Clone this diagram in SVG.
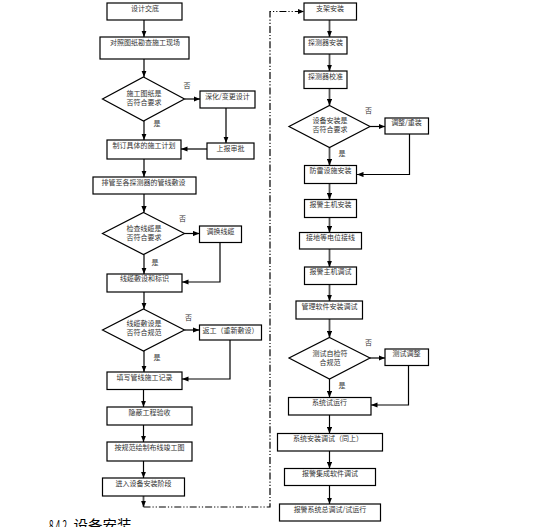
<svg xmlns="http://www.w3.org/2000/svg" width="538" height="527" viewBox="0 0 538 527">
<style>
.b{fill:#fff;stroke:#000;stroke-width:1.2}
.t{font-family:"Noto Sans CJK SC","Liberation Sans",sans-serif;font-size:7px;fill:#333;text-anchor:middle}
.l{font-family:"Noto Sans CJK SC","Liberation Sans",sans-serif;font-size:7px;fill:#333;text-anchor:middle}
.c{fill:none;stroke:#000;stroke-width:1.2}
.g{fill:none;stroke:#555;stroke-width:1.8}
.dd{fill:none;stroke:#000;stroke-width:1.2;stroke-dasharray:7 2 1.2 2 1.2 2}
.h{font-family:"Noto Sans CJK SC","Liberation Sans",sans-serif;font-size:14.5px;fill:#000}
</style>
<defs>
<marker id="ah" viewBox="0 0 10 8" refX="10" refY="4" markerWidth="6.5" markerHeight="5.2" markerUnits="userSpaceOnUse" orient="auto"><path d="M0,0 L10,4 L0,8 z" fill="#000"/></marker>
</defs>
<rect width="538" height="527" fill="#fff"/>

<g id="connectors">
<path class="c" d="M144,20 V37" marker-end="url(#ah)"/>
<path class="c" d="M144,59 V77" marker-end="url(#ah)"/>
<path class="c" d="M184.5,99 H200" marker-end="url(#ah)"/>
<path class="g" d="M226,108 V143" marker-end="url(#ah)"/>
<path class="c" d="M207,149 H181" marker-end="url(#ah)"/>
<path class="c" d="M144,121 V140" marker-end="url(#ah)"/>
<path class="c" d="M144,159 V177" marker-end="url(#ah)"/>
<path class="c" d="M144,194 V212.5" marker-end="url(#ah)"/>
<path class="c" d="M184.5,233.5 H199.5" marker-end="url(#ah)"/>
<path class="c" d="M220,242.5 V282 H182" marker-end="url(#ah)"/>
<path class="c" d="M144,254.5 V274" marker-end="url(#ah)"/>
<path class="c" d="M144,292 V309" marker-end="url(#ah)"/>
<path class="c" d="M184.5,330 H199.5" marker-end="url(#ah)"/>
<path class="c" d="M230,340 V379 H182" marker-end="url(#ah)"/>
<path class="c" d="M144,351 V372" marker-end="url(#ah)"/>
<path class="c" d="M143.5,389.5 V407" marker-end="url(#ah)"/>
<path class="c" d="M143.5,425 V442" marker-end="url(#ah)"/>
<path class="c" d="M143.5,461 V478" marker-end="url(#ah)"/>
<path class="g" d="M143.5,496 V507" marker-end="url(#ah)"/>
<path class="dd" d="M143.5,507 H270 V11.5 H304" marker-end="url(#ah)"/>

<path class="g" d="M329.5,20 V37" marker-end="url(#ah)"/>
<path class="g" d="M329.5,54 V71" marker-end="url(#ah)"/>
<path class="g" d="M329.5,88.5 V105.5" marker-end="url(#ah)"/>
<path class="c" d="M370,126.5 H385" marker-end="url(#ah)"/>
<path class="c" d="M409.5,134 V174.5 H357" marker-end="url(#ah)"/>
<path class="g" d="M329.5,147.5 V165.5" marker-end="url(#ah)"/>
<path class="g" d="M329.5,183.5 V199.5" marker-end="url(#ah)"/>
<path class="g" d="M329.5,217.5 V232.5" marker-end="url(#ah)"/>
<path class="g" d="M329.5,249 V267" marker-end="url(#ah)"/>
<path class="g" d="M329.5,284.5 V301" marker-end="url(#ah)"/>
<path class="g" d="M329.5,319 V337.5" marker-end="url(#ah)"/>
<path class="c" d="M370,358 H385" marker-end="url(#ah)"/>
<path class="c" d="M408.5,365.5 V405 H371" marker-end="url(#ah)"/>
<path class="c" d="M329.5,379 V397.5" marker-end="url(#ah)"/>
<path class="c" d="M329.5,415 V433.5" marker-end="url(#ah)"/>
<path class="c" d="M329.5,451 V468.5" marker-end="url(#ah)"/>
<path class="c" d="M329.5,485.5 V504" marker-end="url(#ah)"/>

<text class="l" x="187" y="88">否</text>
<text class="l" x="157" y="126">是</text>
<text class="l" x="182.5" y="221">否</text>
<text class="l" x="155" y="264.5">是</text>
<text class="l" x="188.5" y="319.5">否</text>
<text class="l" x="157" y="359.5">是</text>
<text class="l" x="368.5" y="112.5">否</text>
<text class="l" x="342" y="156">是</text>
<text class="l" x="368.5" y="344.5">否</text>
<text class="l" x="342" y="388">是</text>
</g>

<g id="n1"><rect class="b" x="107" y="3" width="75" height="17"/><text class="t" x="145" y="11">设计交底</text></g>
<g id="n2"><rect class="b" x="100" y="37" width="89" height="22"/><text class="t" x="145" y="44.5">对照图纸勘查施工现场</text></g>
<g id="d1"><polygon class="b" points="143.5,77 184.5,99 143.5,121 102.5,99"/><text class="t" x="144" y="96">施工图纸是</text><text class="t" x="144" y="105">否符合要求</text></g>
<g id="n4"><rect class="b" x="200" y="91" width="55" height="17"/><text class="t" x="227.5" y="98.5">深化/变更设计</text></g>
<g id="n5"><rect class="b" x="207" y="143" width="47" height="16"/><text class="t" x="230.5" y="150.5">上报审批</text></g>
<g id="n6"><rect class="b" x="107" y="140" width="74" height="19"/><text class="t" x="144" y="148">制订具体的施工计划</text></g>
<g id="n7"><rect class="b" x="93" y="177" width="103" height="17"/><text class="t" x="143.5" y="184.5">排管至各探测器的管线敷设</text></g>
<g id="d2"><polygon class="b" points="143.5,212.5 184.5,233.5 143.5,254.5 102.5,233.5"/><text class="t" x="144" y="231">检查线缆是</text><text class="t" x="144" y="240">否符合要求</text></g>
<g id="n9"><rect class="b" x="199.5" y="226" width="42" height="16.5"/><text class="t" x="220.5" y="233.5">调换线缆</text></g>
<g id="n10"><rect class="b" x="107" y="274" width="75" height="18"/><text class="t" x="144.5" y="281">线缆敷设和标识</text></g>
<g id="d3"><polygon class="b" points="143.5,309 184.5,330 143.5,351 102.5,330"/><text class="t" x="144" y="326">线缆敷设是</text><text class="t" x="144" y="335">否符合规范</text></g>
<g id="n12"><rect class="b" x="199.5" y="325" width="62" height="15"/><text class="t" x="230.5" y="332.5">返工（重新敷设）</text></g>
<g id="n13"><rect class="b" x="107" y="372" width="75" height="17.5"/><text class="t" x="144.5" y="379.5">填写管线施工记录</text></g>
<g id="n14"><rect class="b" x="107" y="407" width="85" height="18"/><text class="t" x="149.5" y="415">隐蔽工程验收</text></g>
<g id="n15"><rect class="b" x="107" y="442" width="85" height="19"/><text class="t" x="149.5" y="449.5">按规范绘制布线竣工图</text></g>
<g id="n16"><rect class="b" x="102.5" y="478" width="82" height="18"/><text class="t" x="143.5" y="485.5">进入设备安装阶段</text></g>

<g id="r1"><rect class="b" x="304" y="3" width="52.5" height="17"/><text class="t" x="330" y="10.5">支架安装</text></g>
<g id="r2"><rect class="b" x="304" y="37" width="43" height="17"/><text class="t" x="325.5" y="44.5">探测器安装</text></g>
<g id="r3"><rect class="b" x="304" y="71" width="43" height="17.5"/><text class="t" x="325.5" y="78.5">探测器校准</text></g>
<g id="rd1"><polygon class="b" points="329.5,105.5 370,126.5 329.5,147.5 289,126.5"/><text class="t" x="330" y="122.5">设备安装是</text><text class="t" x="330" y="132">否符合要求</text></g>
<g id="r5"><rect class="b" x="385" y="118" width="43.5" height="16"/><text class="t" x="406.5" y="125">调整/重装</text></g>
<g id="r6"><rect class="b" x="304.5" y="165.5" width="52" height="18"/><text class="t" x="330.5" y="173">防雷设施安装</text></g>
<g id="r7"><rect class="b" x="304.5" y="199.5" width="52" height="18"/><text class="t" x="330.5" y="207">报警主机安装</text></g>
<g id="r8"><rect class="b" x="299.5" y="232.5" width="62" height="16.5"/><text class="t" x="330.5" y="240">接地等电位接线</text></g>
<g id="r9"><rect class="b" x="304.5" y="267" width="52" height="17.5"/><text class="t" x="330.5" y="274">报警主机调试</text></g>
<g id="r10"><rect class="b" x="296" y="301" width="66.5" height="18"/><text class="t" x="329.5" y="308.5">管理软件安装调试</text></g>
<g id="rd2"><polygon class="b" points="329.5,337.5 370,358 329.5,379 289,358"/><text class="t" x="330" y="356">测试自检符</text><text class="t" x="330" y="365">合规范</text></g>
<g id="r12"><rect class="b" x="385" y="349" width="43.5" height="16.5"/><text class="t" x="406.5" y="356">测试调整</text></g>
<g id="r13"><rect class="b" x="288.5" y="397.5" width="82.5" height="17.5"/><text class="t" x="329.5" y="404.5">系统试运行</text></g>
<g id="r14"><rect class="b" x="277.5" y="433.5" width="105" height="17.5"/><text class="t" x="328" y="441">系统安装调试（同上）</text></g>
<g id="r15"><rect class="b" x="284.5" y="468.5" width="91" height="17"/><text class="t" x="330" y="475.5">报警集成软件调试</text></g>
<g id="r16"><rect class="b" x="279.5" y="504" width="101" height="17"/><text class="t" x="330" y="511.5">报警系统总调试/试运行</text></g>

<g id="heading"><text class="h" x="49" y="531" font-size="12px" textLength="18" lengthAdjust="spacingAndGlyphs">8.4.2</text><text class="h" x="73.5" y="531">设备安装</text></g>
</svg>
